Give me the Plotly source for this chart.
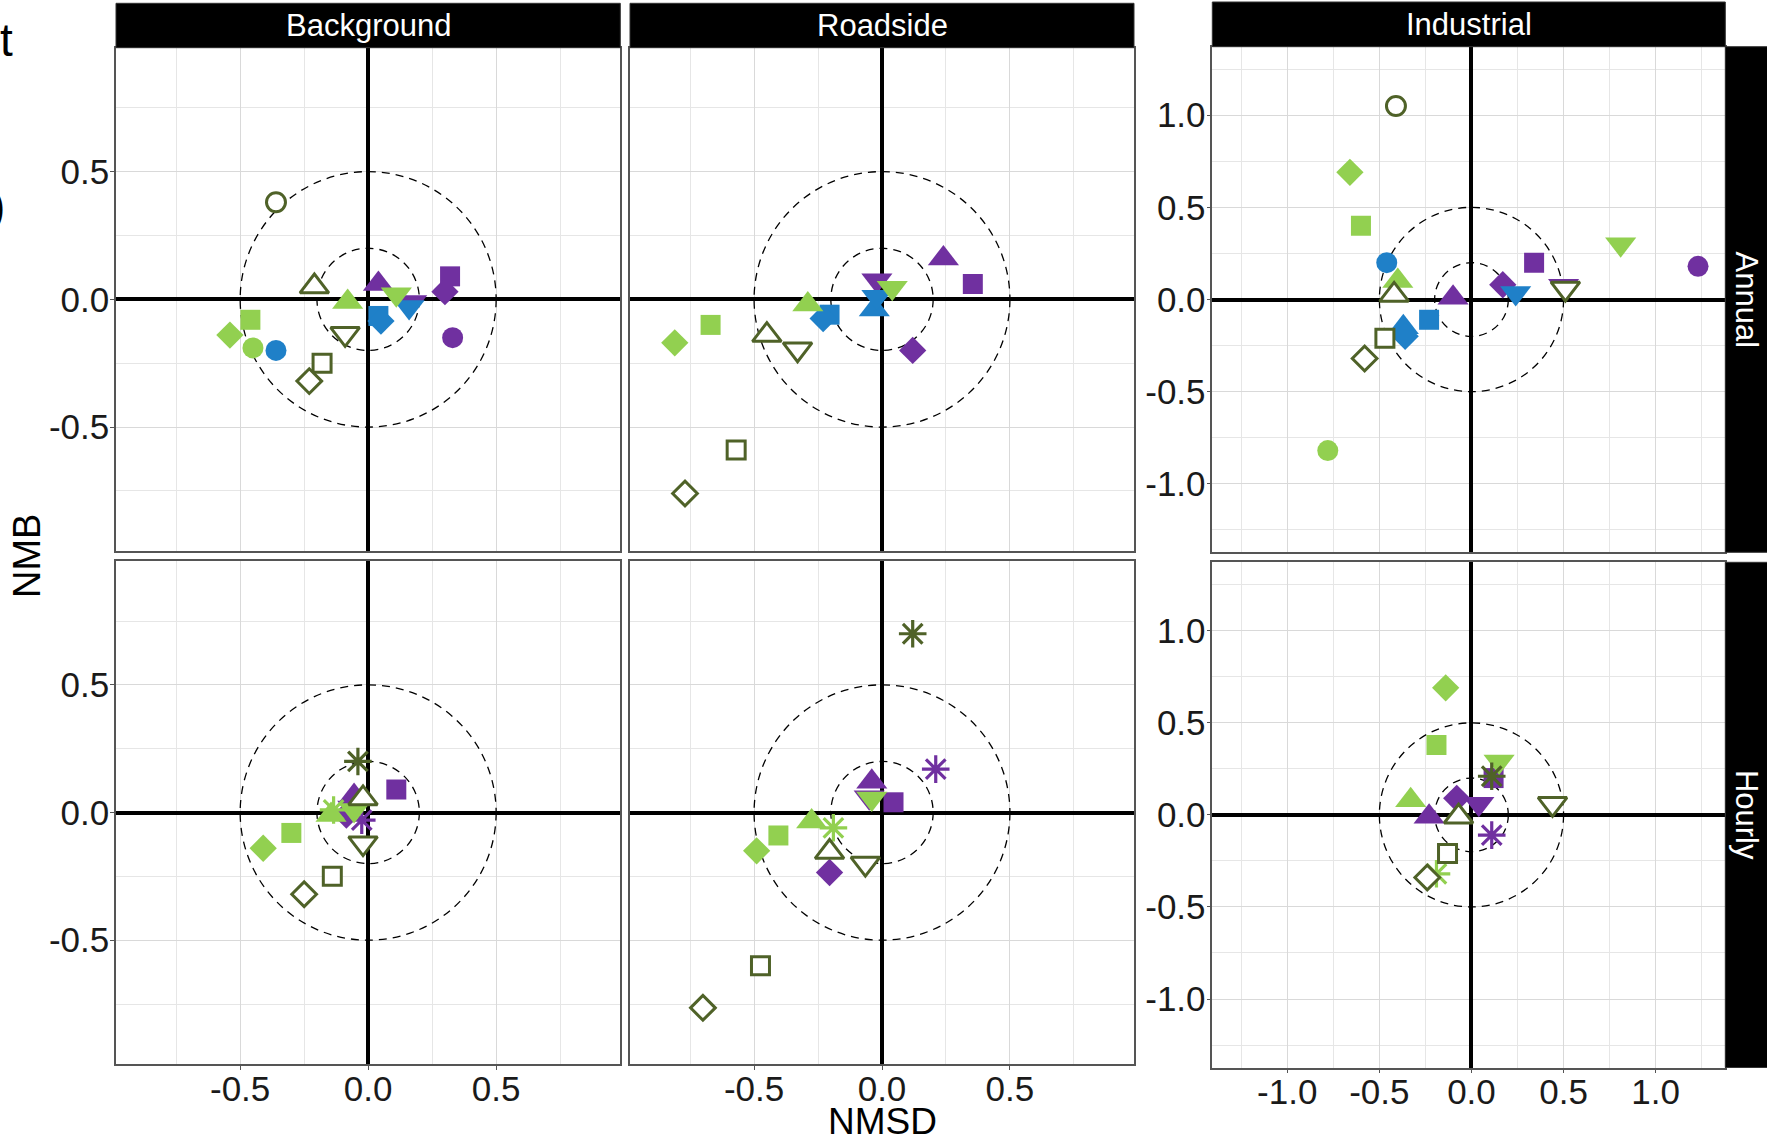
import plotly.graph_objects as go

W, H = 1767, 1139

# ---------------- data (NMSD = x, NMB = y) ----------------
# Background / Annual
ba_series = ["lg_diamond", "lg_square", "lg_circle", "lg_triup", "lg_tridown",
             "bl_circle", "bl_square", "bl_diamond", "bl_tridown",
             "pu_triup", "pu_tridown", "pu_square", "pu_diamond", "pu_circle",
             "ol_circle", "ol_triup", "ol_tridown", "ol_square", "ol_diamond"]
ba_nmsd = [-0.54, -0.46, -0.45, -0.08, 0.11,
           -0.36, 0.04, 0.05, 0.16,
           0.04, 0.17, 0.32, 0.30, 0.33,
           -0.36, -0.21, -0.09, -0.18, -0.23]
ba_nmb = [-0.14, -0.08, -0.19, -0.01, 0.02,
          -0.20, -0.065, -0.085, -0.03,
          0.06, -0.01, 0.09, 0.03, -0.15,
          0.38, 0.05, -0.135, -0.25, -0.32]

# Roadside / Annual
ra_series = ["lg_diamond", "lg_square", "lg_triup", "lg_tridown",
             "bl_square", "bl_diamond", "bl_triup", "bl_tridown",
             "pu_tridown", "pu_triup", "pu_square", "pu_diamond",
             "ol_triup", "ol_tridown", "ol_square", "ol_diamond"]
ra_nmsd = [-0.81, -0.67, -0.29, 0.04,
           -0.205, -0.23, -0.03, -0.02,
           -0.02, 0.24, 0.355, 0.12,
           -0.45, -0.33, -0.57, -0.77]
ra_nmb = [-0.17, -0.10, -0.02, 0.045,
          -0.06, -0.075, -0.04, 0.01,
          0.075, 0.16, 0.06, -0.20,
          -0.14, -0.195, -0.59, -0.76]

# Industrial / Annual
ia_series = ["lg_diamond", "lg_square", "lg_circle", "lg_triup", "lg_tridown",
             "bl_circle", "bl_square", "bl_triup", "bl_diamond", "bl_tridown",
             "pu_triup", "pu_diamond", "pu_square", "pu_tridown", "pu_circle",
             "ol_circle", "ol_triup", "ol_square", "ol_diamond", "ol_tridown"]
ia_nmsd = [-0.66, -0.60, -0.78, -0.40, 0.81,
           -0.46, -0.23, -0.37, -0.36, 0.24,
           -0.10, 0.17, 0.34, 0.50, 1.23,
           -0.41, -0.42, -0.47, -0.58, 0.51]
ia_nmb = [0.69, 0.40, -0.82, 0.10, 0.30,
          0.20, -0.11, -0.15, -0.20, 0.035,
          0.01, 0.08, 0.20, 0.075, 0.18,
          1.05, 0.025, -0.21, -0.32, 0.06]

# Background / Hourly
bh_series = ["lg_star", "lg_triup", "lg_tridown", "lg_square", "lg_diamond",
             "pu_square", "pu_triup", "pu_diamond", "pu_tridown", "pu_star",
             "ol_star", "ol_triup", "ol_tridown", "ol_square", "ol_diamond"]
bh_nmsd = [-0.135, -0.145, -0.055, -0.30, -0.41,
           0.11, -0.055, -0.085, -0.06, -0.025,
           -0.04, -0.02, -0.02, -0.14, -0.25]
bh_nmb = [0.01, -0.01, 0.01, -0.08, -0.14,
          0.09, 0.065, -0.01, 0.02, -0.03,
          0.20, 0.055, -0.12, -0.25, -0.32]

# Roadside / Hourly
rh_series = ["lg_tridown", "lg_triup", "lg_star", "lg_square", "lg_diamond",
             "pu_star", "pu_triup", "pu_tridown", "pu_square", "pu_diamond",
             "ol_star", "ol_triup", "ol_tridown", "ol_square", "ol_diamond"]
rh_nmsd = [-0.04, -0.275, -0.19, -0.405, -0.49,
           0.21, -0.04, -0.05, 0.045, -0.205,
           0.12, -0.205, -0.065, -0.475, -0.70]
rh_nmb = [0.055, -0.035, -0.06, -0.09, -0.15,
          0.17, 0.12, 0.06, 0.04, -0.235,
          0.70, -0.155, -0.20, -0.60, -0.765]

# Industrial / Hourly
ih_series = ["lg_diamond", "lg_square", "lg_tridown", "lg_triup", "lg_star",
             "pu_square", "pu_diamond", "pu_tridown", "pu_triup", "pu_star",
             "ol_star", "ol_triup", "ol_tridown", "ol_square", "ol_diamond"]
ih_nmsd = [-0.14, -0.19, 0.15, -0.33, -0.19,
           0.12, -0.08, 0.04, -0.23, 0.11,
           0.11, -0.07, 0.44, -0.13, -0.24]
ih_nmb = [0.69, 0.38, 0.29, 0.08, -0.32,
          0.20, 0.09, 0.06, -0.01, -0.11,
          0.21, -0.01, 0.06, -0.21, -0.34]

site_labels = ["Background", "Roadside", "Industrial"]
period_labels = ["Annual", "Hourly"]
left_ticks = [-0.5, 0.0, 0.5]
left_ticktext = ["-0.5", "0.0", "0.5"]
ind_ticks = [-1.0, -0.5, 0.0, 0.5, 1.0]
ind_ticktext = ["-1.0", "-0.5", "0.0", "0.5", "1.0"]
circle_radii = [0.5, 0.2]

# ---------------- styles ----------------
COLORS = {"lg": "#92D050", "ol": "#4F6228", "bl": "#1F80C8", "pu": "#7030A0"}
SYMBOLS = {"circle": "circle", "square": "square", "diamond": "diamond",
           "triup": "triangle-up", "tridown": "triangle-down", "star": "asterisk-open"}
SIZES = {"circle": 21, "square": 20, "diamond": 21, "triup": 27, "tridown": 27, "star": 23}
ORDER = ["pu", "bl", "lg", "ol"]
FONT = "Liberation Sans, Arial, Helvetica, sans-serif"

panels = [
    # (series, x, y, col, row)
    (ba_series, ba_nmsd, ba_nmb, 0, 0),
    (ra_series, ra_nmsd, ra_nmb, 1, 0),
    (ia_series, ia_nmsd, ia_nmb, 2, 0),
    (bh_series, bh_nmsd, bh_nmb, 0, 1),
    (rh_series, rh_nmsd, rh_nmb, 1, 1),
    (ih_series, ih_nmsd, ih_nmb, 2, 1),
]

col_px = {0: (116, 620.3), 1: (630, 1134), 2: (1212.3, 1725.3)}
row_px_left = {0: (47.7, 551), 1: (561, 1064)}
row_px_ind = {0: (46.7, 552.3), 1: (562.3, 1067.5)}
left_range = [-0.985, 0.985]
ind_xrange = [-1.407, 1.378]
ind_yrange = [-1.372, 1.372]


def px_x(v):
    return v / W


def px_y(v):
    return 1 - v / H


fig = go.Figure()
layout = dict(
    width=W, height=H, margin=dict(l=0, r=0, t=0, b=0),
    paper_bgcolor="white", plot_bgcolor="white", showlegend=False,
    font=dict(family=FONT, color="#1a1a1a"),
)
shapes = []
annotations = []

for i, (series, xs, ys, col, row) in enumerate(panels):
    n = i + 1
    xa = "x" if n == 1 else f"x{n}"
    ya = "y" if n == 1 else f"y{n}"
    xkey = "xaxis" if n == 1 else f"xaxis{n}"
    ykey = "yaxis" if n == 1 else f"yaxis{n}"
    x0, x1 = col_px[col]
    y0, y1 = (row_px_ind if col == 2 else row_px_left)[row]
    ind = col == 2
    show_x = row == 1
    show_y = col in (0, 2)

    common = dict(
        showgrid=True, gridcolor="#d9d9d9", gridwidth=1,
        minor=dict(tickmode="linear", tick0=0, dtick=0.25, showgrid=True,
                   gridcolor="#e6e6e6", gridwidth=1, ticks=""),
        zeroline=True, zerolinecolor="black", zerolinewidth=3.5,
        showline=True, mirror=True, linecolor="#555555", linewidth=1.5,
        tickmode="array", tickcolor="#555555", ticklen=4, tickwidth=1,
        tickfont=dict(size=35, color="#1a1a1a", family=FONT),
        fixedrange=True,
    )
    layout[xkey] = dict(
        common, domain=[px_x(x0), px_x(x1)], anchor=ya,
        range=ind_xrange if ind else left_range,
        tickvals=ind_ticks if ind else left_ticks,
        ticktext=ind_ticktext if ind else left_ticktext,
        showticklabels=show_x, ticks="outside" if show_x else "",
        ticklabelstandoff=-11,
    )
    layout[ykey] = dict(
        common, domain=[px_y(y1), px_y(y0)], anchor=xa,
        range=ind_yrange if ind else left_range,
        tickvals=ind_ticks if ind else left_ticks,
        ticktext=ind_ticktext if ind else left_ticktext,
        showticklabels=show_y, ticks="outside" if show_y else "",
        ticklabelstandoff=-6,
    )

    for r in circle_radii:
        shapes.append(dict(type="circle", xref=xa, yref=ya, x0=-r, x1=r, y0=-r, y1=r,
                           line=dict(color="black", width=1.3, dash="8px,6px"),
                           layer="between"))

    for grp in ORDER:
        for name, xv, yv in zip(series, xs, ys):
            g, shp = name.split("_")
            if g != grp:
                continue
            c = COLORS[g]
            if shp == "star":
                marker = dict(symbol="asterisk-open", size=SIZES[shp], color=c,
                              line=dict(color=c, width=3.2))
            elif g == "ol":
                marker = dict(symbol=SYMBOLS[shp], size=SIZES[shp] - 2, color="white",
                              line=dict(color=c, width=3))
            else:
                marker = dict(symbol=SYMBOLS[shp], size=SIZES[shp], color=c,
                              line=dict(width=0))
            fig.add_trace(go.Scatter(x=[xv], y=[yv], mode="markers", marker=marker,
                                     xaxis=xa, yaxis=ya, name=name, hoverinfo="skip"))

# strips
top_strips = [(116, 620.3, 3.3, 47.7), (630, 1134, 3.3, 47.7), (1212.3, 1725.3, 2, 46.7)]
for (sx0, sx1, sy0, sy1), lab in zip(top_strips, site_labels):
    shapes.append(dict(type="rect", xref="paper", yref="paper",
                       x0=px_x(sx0), x1=px_x(sx1), y0=px_y(sy1), y1=px_y(sy0),
                       fillcolor="black", line=dict(color="#333333", width=1), layer="above"))
    annotations.append(dict(text=lab, xref="paper", yref="paper",
                            x=px_x((sx0 + sx1) / 2), y=px_y((sy0 + sy1) / 2),
                            showarrow=False, xanchor="center", yanchor="middle",
                            font=dict(size=31, color="white", family=FONT)))
right_strips = [(46.7, 552.3), (562.3, 1067.5)]
for (sy0, sy1), lab in zip(right_strips, period_labels):
    shapes.append(dict(type="rect", xref="paper", yref="paper",
                       x0=px_x(1725.3), x1=px_x(1775), y0=px_y(sy1), y1=px_y(sy0),
                       fillcolor="black", line=dict(color="#333333", width=1), layer="above"))
    annotations.append(dict(text=lab, xref="paper", yref="paper",
                            x=px_x(1746), y=px_y((sy0 + sy1) / 2), textangle=90,
                            showarrow=False, xanchor="center", yanchor="middle",
                            font=dict(size=31, color="white", family=FONT)))

# axis titles
annotations.append(dict(text="NMB", xref="paper", yref="paper", x=px_x(27), y=px_y(556),
                        textangle=-90, showarrow=False, xanchor="center", yanchor="middle",
                        font=dict(size=38, color="black", family=FONT)))
annotations.append(dict(text="NMSD", xref="paper", yref="paper", x=px_x(882), y=px_y(1121),
                        showarrow=False, xanchor="center", yanchor="middle",
                        font=dict(size=37, color="black", family=FONT)))
# cropped fragments at the left edge of the original figure
annotations.append(dict(text="t", xref="paper", yref="paper", x=px_x(-2), y=px_y(40),
                        showarrow=False, xanchor="left", yanchor="middle",
                        font=dict(size=46, color="black", family=FONT)))
annotations.append(dict(text=")", xref="paper", yref="paper", x=px_x(7), y=px_y(206),
                        showarrow=False, xanchor="right", yanchor="middle",
                        font=dict(size=46, color="black", family=FONT)))

layout["shapes"] = shapes
layout["annotations"] = annotations
fig.update_layout(**layout)
fig.write_html("out.html", config={"displayModeBar": False})
